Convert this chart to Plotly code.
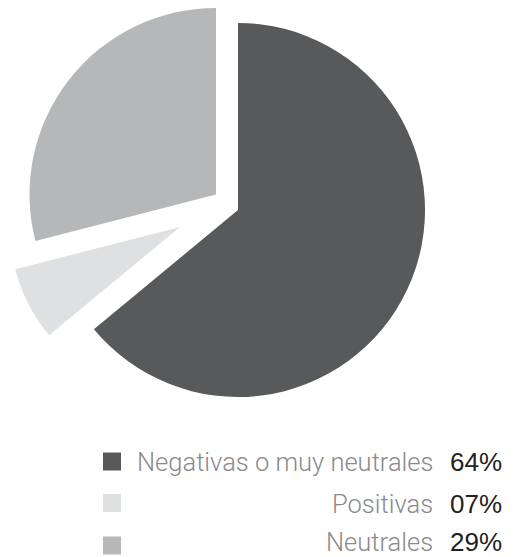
import plotly.graph_objects as go

categories = ["Negativas o muy neutrales", "Positivas", "Neutrales"]
values = [64, 7, 29]
pct_labels = ["64%", "07%", "29%"]
colors = ["#58595b", "#dfe0e1", "#b6b7b9"]

# page body has an 8px margin; figure sized to fit the window
OFF = 8
W, H = 518 - OFF, 557 - OFF


def px(x):
    return min(1.0, max(0.0, (x - OFF) / W))


def py(y):
    return min(1.0, max(0.0, 1 - (y - OFF) / H))


# pixel geometry of each slice's pie (center x, center y, radius)
slice_geom = [(238, 210, 187), (180, 227, 170), (216, 194.5, 186.5)]

fig = go.Figure()
for i, (cx, cy, r) in enumerate(slice_geom):
    cols = ["rgba(0,0,0,0)"] * len(values)
    cols[i] = colors[i]
    fig.add_trace(go.Pie(
        labels=categories,
        values=values,
        sort=False,
        direction="clockwise",
        rotation=0,
        marker=dict(colors=cols, line=dict(width=0)),
        textinfo="none",
        hoverinfo="label+percent",
        showlegend=False,
        domain=dict(x=[px(cx - r), px(cx + r)],
                    y=[py(cy + r), py(cy - r)]),
    ))

square_y = [461.5, 503, 545.5]
text_y = [462, 503.5, 542]
shapes = []
annotations = []
for i, cat in enumerate(categories):
    yc = square_y[i]
    shapes.append(dict(type="rect", xref="paper", yref="paper",
                       x0=px(103), x1=px(121),
                       y0=py(yc + 9), y1=py(yc - 9),
                       fillcolor=colors[i], line=dict(width=0)))
    annotations.append(dict(text=cat, xref="paper", yref="paper",
                            x=px(434), y=py(text_y[i]),
                            xanchor="right", yanchor="middle", showarrow=False,
                            borderpad=0,
                            font=dict(family="Roboto", size=25.5, color="#8a8a8a", weight=300)))
    annotations.append(dict(text=pct_labels[i], xref="paper", yref="paper",
                            x=px(449), y=py(text_y[i]),
                            xanchor="left", yanchor="middle", showarrow=False,
                            borderpad=0,
                            font=dict(family="Liberation Sans", size=26, color="#231f20")))

fig.update_layout(
    width=W, height=H, autosize=False,
    margin=dict(l=0, r=0, t=0, b=0),
    paper_bgcolor="white", plot_bgcolor="white",
    shapes=shapes, annotations=annotations,
)

fig.write_html("out.html")
